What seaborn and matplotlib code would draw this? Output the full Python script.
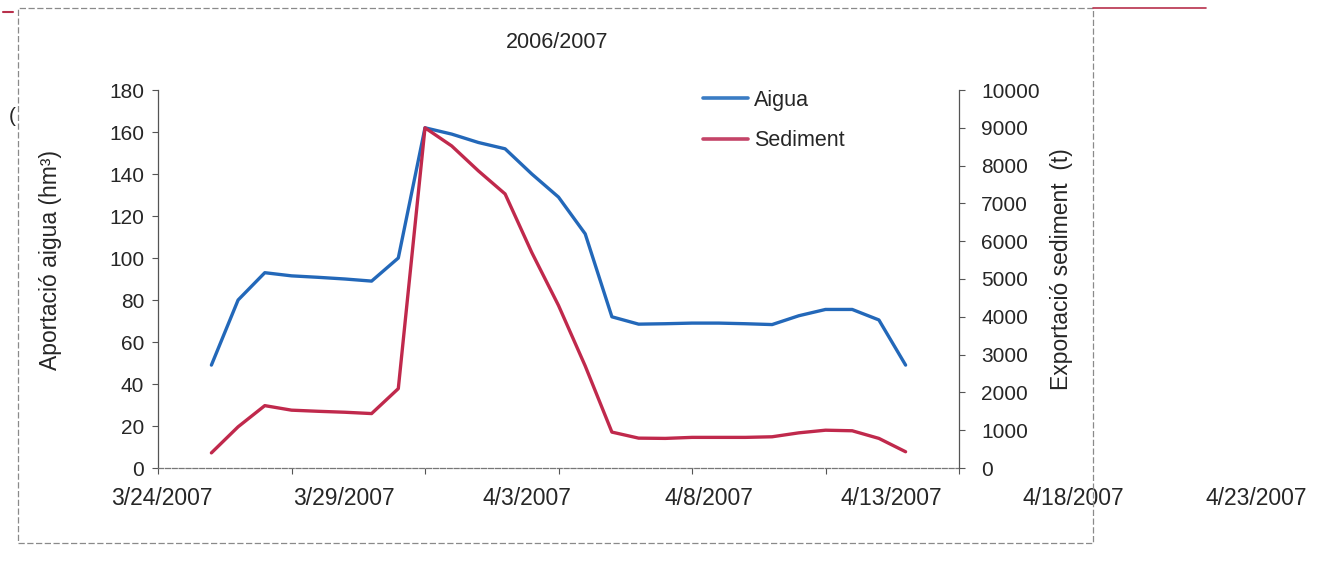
import matplotlib
matplotlib.use("Agg")
import matplotlib.pyplot as plt
import matplotlib.dates as mdates
from matplotlib.patches import Rectangle
from matplotlib.lines import Line2D
import seaborn as sns
import pandas as pd

# --- data (daily values, 3/26/2007 .. 4/21/2007) ---
dates = pd.date_range("2007-03-26", "2007-04-21", freq="D")
aigua = [49, 80, 93, 91.5, 90.8, 90, 89, 100, 162, 159, 155, 152, 140, 129,
         111.5, 72, 68.5, 68.7, 69, 69, 68.7, 68.3, 72.5, 75.5, 75.5, 70.5, 49]
sediment = [400, 1090, 1650, 1530, 1500, 1475, 1440, 2100, 9000, 8520, 7860,
            7250, 5700, 4300, 2700, 950, 790, 783, 810, 810, 810, 826, 930,
            1000, 985, 783, 430]

title = "2006/2007"
ylabel_left = "Aportació aigua (hm³)"
ylabel_right = "Exportació sediment  (t)"
x_start, x_end = pd.Timestamp("2007-03-24"), pd.Timestamp("2007-04-23")

blue = "#2368b9"
red = "#c0294c"

sns.set_style("ticks")
plt.rcParams["font.family"] = ["Liberation Sans", "DejaVu Sans"]
plt.rcParams["font.size"] = 15

W, H = 1318, 564
fig = plt.figure(figsize=(W / 100, H / 100), dpi=100)

# main axes (pixel box 158..959 x 90..468)
ax = fig.add_axes([158 / W, 1 - 468 / H, (959 - 158) / W, (468 - 90) / H])
df = pd.DataFrame({"date": dates, "aigua": aigua, "sediment": sediment})
sns.lineplot(data=df, x="date", y="aigua", ax=ax, color=blue, lw=2.4,
             label="Aigua", legend=False)
ax.set_ylim(0, 180)
ax.set_yticks(range(0, 181, 20))
ax.set_xlim(x_start, x_end)
ax.set_xticks(pd.date_range(x_start, x_end, freq="5D"))
ax.set_xticklabels([])
ax.set_xlabel("")
ax.set_ylabel(ylabel_left, fontsize=16.5)
ax.yaxis.set_label_coords(-0.12, 0.55)

ax2 = ax.twinx()
sns.lineplot(data=df, x="date", y="sediment", ax=ax2, color=red, lw=2.4,
             label="Sediment", legend=False)
ax2.set_ylim(0, 10000)
ax2.set_yticks(range(0, 10001, 1000))
ax2.set_ylabel(ylabel_right, fontsize=16.5)
ax2.yaxis.set_label_coords(1.114, 0.525)

for a in (ax, ax2):
    a.spines["top"].set_visible(False)
    for s in ("left", "right", "bottom"):
        a.spines[s].set_color("#555555")
        a.spines[s].set_linewidth(0.9)
    a.tick_params(length=4, width=0.8, color="#555555", labelsize=15, pad=6)
ax2.tick_params(axis="y", pad=12)
ax.spines["right"].set_visible(False)
ax2.spines["left"].set_visible(False)
ax2.spines["bottom"].set_visible(False)
ax.spines["bottom"].set_linestyle((0, (4, 1.5)))
ax.spines["bottom"].set_color("#777777")

# date labels (in the scan they run wider than the tick marks)
lab = fig.add_axes([162 / W, 1 - 468 / H, (1256 - 162) / W, 1e-4])
lab.set_xlim(x_start, x_end)
lab.set_xticks(pd.date_range(x_start, x_end, freq="5D"))
lab.xaxis.set_major_formatter(plt.FuncFormatter(
    lambda v, p: (lambda d: f"{d.month}/{d.day}/{d.year}")(mdates.num2date(v))))
lab.tick_params(axis="x", length=0, pad=14, labelsize=16.5)
lab.set_yticks([])
for s in lab.spines.values():
    s.set_visible(False)
lab.patch.set_alpha(0)

# legend
h1 = Line2D([], [], color="#3a7cc4", lw=2.6)
h2 = Line2D([], [], color="#c44468", lw=2.6)
fig.legend([h1, h2], ["Aigua", "Sediment"], loc="upper left",
           bbox_to_anchor=(703 / W, 1 - 90 / H), frameon=False,
           handlelength=2.1, handletextpad=0.25, labelspacing=0.9,
           borderpad=0, borderaxespad=0, fontsize=15.5)

fig.text(557 / W, 1 - 42 / H, title, ha="center", va="center", fontsize=15.5)

# scanned frame and stray marks
fig.add_artist(Rectangle((18 / W, 1 - 543 / H), (1093 - 18) / W, (543 - 8) / H,
                         transform=fig.transFigure, fill=False,
                         ec="#8a8a8a", lw=0.9, ls=(0, (5, 2))))
fig.add_artist(Line2D([1093 / W, 1206 / W], [1 - 8 / H, 1 - 8 / H],
                      transform=fig.transFigure, color="#b8304c", lw=1.2))
fig.add_artist(Line2D([3 / W, 13 / W], [1 - 12 / H, 1 - 12 / H],
                      transform=fig.transFigure, color="#b8304c", lw=1.5))
fig.text(12 / W, 1 - 116 / H, "(", ha="center", va="center", fontsize=15)

fig.savefig("out.png", dpi=100, facecolor="white")
